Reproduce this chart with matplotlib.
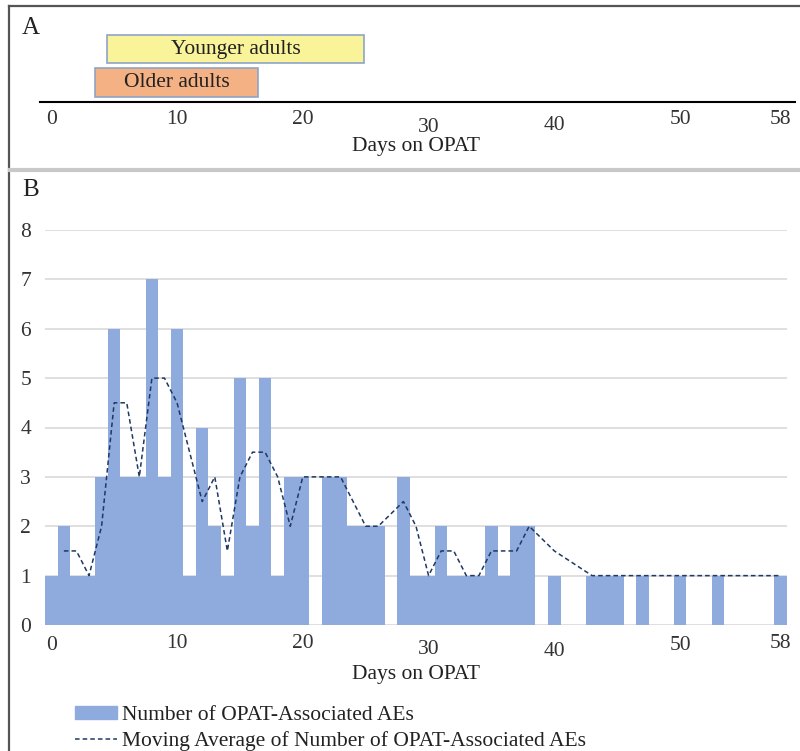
import numpy as np
import matplotlib.pyplot as plt
from matplotlib.lines import Line2D
from matplotlib.patches import Patch

plt.rcParams['font.family'] = ['Liberation Serif', 'DejaVu Serif']

# daily counts of OPAT-associated AEs, day 0..58 (None = no events)
days = list(range(59))
ae_counts = [1, 2, 1, 1, 3, 6, 3, 3, 7, 3,
             6, 1, 4, 2, 1, 5, 2, 5, 1, 3,
             3, None, 3, 3, 2, 2, 2, None, 3, 1,
             1, 2, 1, 1, 1, 2, 1, 2, 2, None,
             1, None, None, 1, 1, 1, None, 1, None, None,
             1, None, None, 1, None, None, None, None, 1]

# panel A: time ranges per group (days)
groups = ['Younger adults', 'Older adults']
group_start = [4.4, 3.5]
group_end = [24.9, 16.4]
group_colors = ['#F9F49A', '#F4B183']

tick_days = [0, 10, 20, 30, 40, 50, 58]
# labels don't sit on one baseline in the original (pixels, + = lower)
shift_a = [0, 0, 0, 7, 6, -1, -1]
shift_b = [1, -1, -1, 4, 6, 1, -1]

W, H = 800, 751
fig = plt.figure(figsize=(W / 100, H / 100), dpi=100)
PT = 72 / 100  # points per pixel

def fax(x0, y0, x1, y1):
    return fig.add_axes([x0 / W, 1 - y1 / H, (x1 - x0) / W, (y1 - y0) / H])

# frame lines
fig.add_artist(Line2D([9 / W, 1], [1 - 6 / H] * 2, color='#555555', lw=1.6))
fig.add_artist(Line2D([9 / W] * 2, [1 - 6 / H, 0], color='#555555', lw=1.6))
fig.add_artist(Line2D([10 / W, 1], [1 - 170 / H] * 2, color='#C8C8C8', lw=3))

tick_col = '#333333'
txt_col = '#222222'
fs = 15.5

# ---- panel A
axA = fax(45, 30, 787, 102)
axA.set_xlim(-0.5, 58.5)
axA.set_ylim(0, 1)
axA.axis('off')
ycent = [0.735, 0.27]
for g, s, e, c, y in zip(groups, group_start, group_end, group_colors, ycent):
    axA.barh(y, e - s, left=s, height=0.4, color=c, edgecolor='#8EA4C8', lw=1.2)
    axA.text((s + e) / 2, y, g, ha='center', va='center', fontsize=fs, color=txt_col)
fig.add_artist(Line2D([40 / W, 795 / W], [1 - 102 / H] * 2, color='black', lw=1.5))
for d, sh in zip(tick_days, shift_a):
    axA.annotate(str(d), (d, 0), xytext=(0, -(18 + sh) * PT), textcoords='offset points',
                 ha='center', va='center', fontsize=fs, color=tick_col)
fig.text((45 + 787) / 2 / W, 1 - 146 / H, 'Days on OPAT', ha='center', va='center',
         fontsize=fs, color=txt_col)
fig.text(22 / W, 1 - 28 / H, 'A', ha='left', va='center', fontsize=18, color=txt_col)
fig.text(22 / W, 1 - 190 / H, 'B', ha='left', va='center', fontsize=18, color=txt_col)

# ---- panel B
ax = fax(45, 230, 787, 625)
heights = [0 if v is None else v for v in ae_counts]
ax.bar(days, heights, width=1.0, color='#8FAADC', zorder=2)

# 2-period moving average over days with events (blanks skipped)
obs = [(d, v) for d, v in zip(days, ae_counts) if v is not None]
ma_x = [obs[i][0] for i in range(1, len(obs))]
ma_y = [(obs[i - 1][1] + obs[i][1]) / 2 for i in range(1, len(obs))]
ax.plot(ma_x, ma_y, ls=(0, (3, 2)), color='#1F3864', lw=1.1, zorder=3)

ax.set_xlim(-0.5, 58.5)
ax.set_ylim(0, 8)
ax.set_yticks(range(9))
ax.yaxis.grid(True, color='#D9D9D9', lw=1.2, zorder=0)
ax.set_axisbelow(True)
for s in ax.spines.values():
    s.set_visible(False)
ax.tick_params(axis='y', length=0, pad=10, labelsize=fs, labelcolor=tick_col)
ax.set_xticks([])
for d, sh in zip(tick_days, shift_b):
    ax.annotate(str(d), (d, 0), xytext=(0, -(20 + sh) * PT), textcoords='offset points',
                ha='center', va='center', fontsize=fs, color=tick_col,
                annotation_clip=False)
fig.text((45 + 787) / 2 / W, 1 - 675 / H, 'Days on OPAT', ha='center', va='center',
         fontsize=fs, color=txt_col)

handles = [Patch(color='#8FAADC'),
           Line2D([], [], ls=(0, (3, 2)), color='#1F3864', lw=1.1)]
labels = ['Number of OPAT-Associated AEs',
          'Moving Average of Number of OPAT-Associated AEs']
fig.legend(handles, labels, loc='upper left', bbox_to_anchor=(75 / W, 1 - 706 / H),
           frameon=False, fontsize=fs, handlelength=1.95, handleheight=0.55,
           handletextpad=0.25, labelspacing=0.3, borderaxespad=0, borderpad=0,
           labelcolor=txt_col)

fig.savefig('out.png', dpi=100)
